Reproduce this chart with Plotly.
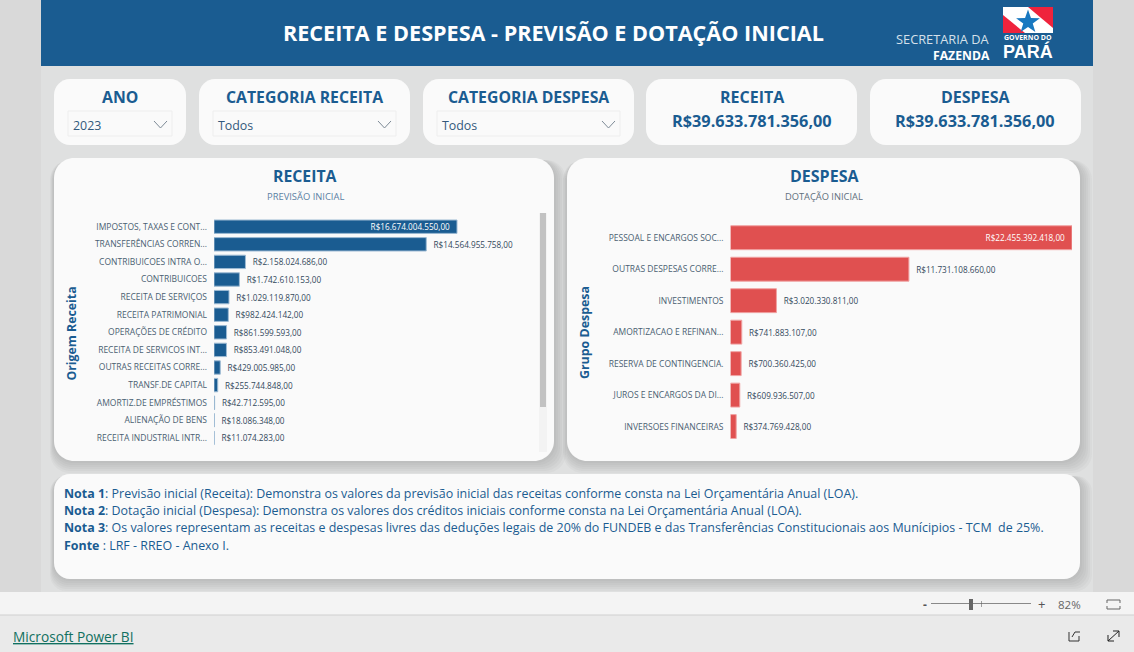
import math
import plotly.graph_objects as go

W, H = 1134, 652
BLUE = '#1a5c91'
RED = '#e05050'
FONT = 'Open Sans'

receita_labels = ['IMPOSTOS, TAXAS E CONT...', 'TRANSFERÊNCIAS CORREN...', 'CONTRIBUICOES INTRA O...',
                  'CONTRIBUICOES', 'RECEITA DE SERVIÇOS', 'RECEITA PATRIMONIAL', 'OPERAÇÕES DE CRÉDITO',
                  'RECEITA DE SERVICOS INT...', 'OUTRAS RECEITAS CORRE...', 'TRANSF.DE CAPITAL',
                  'AMORTIZ.DE EMPRÉSTIMOS', 'ALIENAÇÃO DE BENS', 'RECEITA INDUSTRIAL INTR...']
receita_values = [16674004550, 14564955758, 2158024686, 1742610153, 1029119870, 982424142, 861599593,
                  853491048, 429005985, 255744848, 42712595, 18086348, 11074283]

despesa_labels = ['PESSOAL E ENCARGOS SOC...', 'OUTRAS DESPESAS CORRE...', 'INVESTIMENTOS',
                  'AMORTIZACAO E REFINAN...', 'RESERVA DE CONTINGENCIA.', 'JUROS E ENCARGOS DA DI...',
                  'INVERSOES FINANCEIRAS']
despesa_values = [22455392418, 11731108660, 3020330811, 741883107, 700360425, 609936507, 374769428]

notas = [
    ('Nota 1', ': Previsão inicial (Receita): Demonstra os valores da previsão inicial das receitas conforme consta na Lei Orçamentária Anual (LOA).'),
    ('Nota 2', ': Dotação inicial (Despesa): Demonstra os valores dos créditos iniciais conforme consta na Lei Orçamentária Anual (LOA).'),
    ('Nota 3', ': Os valores representam as receitas e despesas livres das deduções legais de 20% do FUNDEB e das Transferências Constitucionais aos Munícipios - TCM  de 25%.'),
    ('Fonte', ' : LRF - RREO - Anexo I.'),
]


def brl(v):
    return 'R$' + f'{v:,}'.replace(',', '.') + ',00'


def bar_text(values):
    # nbsp padding keeps the labels off the bar ends like the original
    out = [brl(values[0]) + '\u00a0\u00a0']
    out += ['\u00a0\u00a0' + brl(v) for v in values[1:]]
    return out


def px(x):
    return x / W


def py(y):
    return 1 - y / H


shapes = []
annotations = []


def rect(x0, y0, x1, y1, fill, line=None, opacity=1):
    shapes.append(dict(type='rect', xref='paper', yref='paper', x0=px(x0), x1=px(x1), y0=py(y0), y1=py(y1),
                       fillcolor=fill, opacity=opacity, layer='below',
                       line=dict(color=line or fill, width=1 if line else 0)))


def round_rect(x0, y0, x1, y1, r, fill, opacity=1):
    k = 0.45 * r
    p = [('M', x0 + r, y0), ('L', x1 - r, y0), ('C', x1 - k, y0, x1, y0 + k, x1, y0 + r),
         ('L', x1, y1 - r), ('C', x1, y1 - k, x1 - k, y1, x1 - r, y1), ('L', x0 + r, y1),
         ('C', x0 + k, y1, x0, y1 - k, x0, y1 - r), ('L', x0, y0 + r), ('C', x0, y0 + k, x0 + k, y0, x0 + r, y0)]
    path = ''
    for seg in p:
        coords = seg[1:]
        path += seg[0] + ' ' + ' '.join(f'{px(coords[i]):.5f},{py(coords[i + 1]):.5f}' for i in range(0, len(coords), 2)) + ' '
    shapes.append(dict(type='path', xref='paper', yref='paper', path=path + 'Z', fillcolor=fill, opacity=opacity,
                       layer='below', line=dict(width=0)))


def poly(points, fill=None, line=None, width=1):
    path = 'M ' + ' L '.join(f'{px(a):.5f},{py(b):.5f}' for a, b in points)
    if fill:
        path += ' Z'
    shapes.append(dict(type='path', xref='paper', yref='paper', path=path, fillcolor=fill or 'rgba(0,0,0,0)',
                       layer='below', line=dict(color=line or 'rgba(0,0,0,0)', width=width if line else 0)))


def text(x, y, s, size=12, color=BLUE, bold=False, anchor='center', angle=0, family=FONT):
    # annotations sit about 2px inside their anchor
    if anchor == 'left':
        x -= 2
    if anchor == 'right':
        x += 2
    annotations.append(dict(xref='paper', yref='paper', x=px(x), y=py(y), text=f'<b>{s}</b>' if bold else s,
                            showarrow=False, xanchor=anchor, yanchor='middle', textangle=angle,
                            font=dict(family=family, size=size, color=color)))


def card(x0, y0, x1, y1, r, shadow=False):
    if shadow:
        for d in [12, 10, 8, 6, 4, 2]:
            round_rect(x0 - d / 3, y0 + 2, x1 + d, y1 + d, r, '#5a6468', 0.045)
    round_rect(x0, y0, x1, y1, r, '#fafafa')


# page background
rect(0, 0, W, 592, '#d9d9d9')
rect(41, 0, 1093, 592, '#dfe0e0')
rect(41, 0, 1093, 66, BLUE)
rect(0, 592, W, 615, '#f4f4f4')
rect(0, 615, W, 652, '#eaeaea')
rect(0, 614.5, W, 615.5, '#cfcfcf')

text(553, 32, 'RECEITA E DESPESA - PREVISÃO E DOTAÇÃO INICIAL', 21.6, 'white', True)
text(990, 39, 'SECRETARIA DA', 12.8, '#d5e0ea', anchor='right')
text(990, 55.5, 'FAZENDA', 12.2, 'white', True, anchor='right')

# logo
rect(1003, 7, 1053, 33, '#ef233c')
poly([(1003, 7), (1028, 7), (1053, 28), (1053, 33), (1025, 33), (1003, 15)], fill='white')
star = []
for i in range(10):
    a = -math.pi / 2 + i * math.pi / 5
    r = 12.5 if i % 2 == 0 else 5
    star.append((1028 + r * math.cos(a), 22 + r * math.sin(a)))
poly(star, fill='#1878c0')
text(1028, 37.5, 'GOVERNO DO', 7, 'white', True)
text(1028, 51.5, 'PARÁ', 18, 'white', True, family='Liberation Sans')

# slicer and kpi cards
card(54, 79, 186, 145, 16)
card(199, 79, 410, 145, 16)
card(423, 79, 634, 145, 16)
card(646, 79, 857, 145, 16)
card(870, 79, 1081, 145, 16)
for x0, x1, title, value in [(68, 172, 'ANO', '2023'), (213, 396, 'CATEGORIA RECEITA', 'Todos'),
                             (437, 620, 'CATEGORIA DESPESA', 'Todos')]:
    text((x0 + x1) / 2, 97, title, 15.8, BLUE, True)
    rect(x0, 111, x1, 136, '#fafafa', line='#eeeeee')
    text(x0 + 5, 125, value, 12.4, '#33597c', anchor='left')
    poly([(x1 - 18, 121), (x1 - 11.5, 128), (x1 - 5, 121)], line='#7d8a96', width=1)
for cx, title, total in [(752, 'RECEITA', 39633781356), (975, 'DESPESA', 39633781356)]:
    text(cx, 97, title, 16, BLUE, True)
    text(cx, 121, brl(total), 16.3, BLUE, True)

# chart cards
card(54, 158, 554, 461, 20, shadow=True)
card(567, 158, 1080, 461, 20, shadow=True)
card(54, 474, 1080, 579, 16, shadow=True)

text(305, 176, 'RECEITA', 15.8, BLUE, True)
text(305, 196, 'PREVISÃO INICIAL', 9.4, '#5a7fa3')
text(824, 176, 'DESPESA', 16, BLUE, True)
text(824, 196, 'DOTAÇÃO INICIAL', 9.3, '#5f6f7d')
text(70.5, 334, 'Origem Receita', 12.3, BLUE, True, angle=-90)
text(584, 333, 'Grupo Despesa', 12.4, BLUE, True, angle=-90)

# scrollbar
rect(539, 213, 547, 452, '#f3f3f3')
rect(540, 213, 546, 407, '#c2c2c2')

# notes
for (head, body), y in zip(notas, [493, 510, 527, 545]):
    text(64, y, f'<b>{head}</b>{body}', 12.45, BLUE, anchor='left')

# bottom bars
text(925, 604, '-', 12, '#555555', True)
rect(931, 603.2, 1031, 604, '#666666')
rect(969, 599, 973, 610, '#666666')
rect(981, 601, 981.6, 607, '#666666')
text(1041, 604, '+', 13, '#555555')
text(1069, 604, '82%', 11.5, '#666666')
poly([(1107, 603), (1107, 600), (1120, 600), (1120, 603)], line='#666666')
poly([(1107, 606), (1107, 609), (1120, 609), (1120, 606)], line='#666666')
text(13, 636, '<u>Microsoft Power BI</u>', 13.7, '#117060', anchor='left')
poly([(1069, 632), (1069, 641), (1079, 641), (1079, 636)], line='#333333')
poly([(1072, 637), (1075, 632), (1080, 632)], line='#333333')
poly([(1108, 641), (1119, 631)], line='#222222')
poly([(1113, 631), (1119, 631), (1119, 637)], line='#222222')
poly([(1108, 635), (1108, 641), (1114, 641)], line='#222222')

fig = go.Figure()
fig.add_trace(go.Bar(
    x=receita_values, y=receita_labels, orientation='h', xaxis='x', yaxis='y',
    marker=dict(color=BLUE, line=dict(color='#9dbad3', width=1)),
    text=bar_text(receita_values),
    textposition=['inside'] + ['outside'] * (len(receita_values) - 1),
    insidetextanchor='end', constraintext='none', cliponaxis=False, textangle=0,
    textfont=dict(family=FONT, size=8.2, color=['white'] + ['#33495c'] * (len(receita_values) - 1)),
))
fig.add_trace(go.Bar(
    x=despesa_values, y=despesa_labels, orientation='h', xaxis='x2', yaxis='y2',
    marker=dict(color=RED, line=dict(color='#f0a3a3', width=1)),
    text=bar_text(despesa_values),
    textposition=['inside'] + ['outside'] * (len(despesa_values) - 1),
    insidetextanchor='end', constraintext='none', cliponaxis=False, textangle=0,
    textfont=dict(family=FONT, size=8.2, color=['white'] + ['#33495c'] * (len(despesa_values) - 1)),
))

tick_font = dict(family=FONT, size=8.5, color='#4a5f72')
fig.update_layout(
    width=W, height=H, autosize=False, margin=dict(l=0, r=0, t=0, b=0), showlegend=False,
    paper_bgcolor='#d9d9d9', plot_bgcolor='rgba(0,0,0,0)', bargap=0.24,
    shapes=shapes, annotations=annotations,
    xaxis=dict(domain=[px(214), px(530)], range=[0, max(receita_values) * 316 / 243], visible=False),
    yaxis=dict(domain=[py(446.7), py(217.9)], autorange='reversed', anchor='x', showgrid=False, showline=False,
               ticks='', tickfont=tick_font, ticklabelstandoff=6, tickmode='linear', automargin=False),
    xaxis2=dict(domain=[px(730.5), px(1072)], range=[0, max(despesa_values)], visible=False),
    yaxis2=dict(domain=[py(442.3), py(222)], autorange='reversed', anchor='x2', showgrid=False, showline=False,
                ticks='', tickfont=tick_font, ticklabelstandoff=6, tickmode='linear', automargin=False),
)

fig.write_html('out.html', config=dict(displayModeBar=False),
               post_script="document.body.style.margin='0';document.body.style.overflow='hidden';")
